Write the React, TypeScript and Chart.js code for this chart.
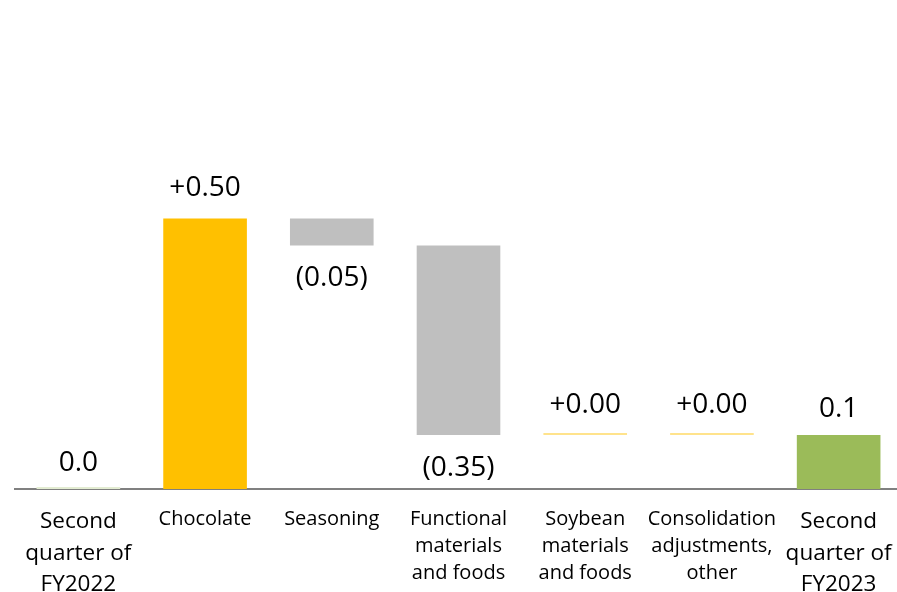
import { useEffect, useRef } from "react";
import { Chart, registerables } from "chart.js";

Chart.register(...registerables);

const categories: string[][] = [
  ["Second", "quarter of", "FY2022"],
  ["Chocolate"],
  ["Seasoning"],
  ["Functional", "materials", "and foods"],
  ["Soybean", "materials", "and foods"],
  ["Consolidation", "adjustments,", "other"],
  ["Second", "quarter of", "FY2023"],
];
const startTotal = 0.0;
const changes = [0.5, -0.05, -0.35, 0.0, 0.0];
const endTotal = 0.1;

const FONT = "'Open Sans', 'Noto Sans', sans-serif";

export default function App() {
  const ref = useRef<HTMLCanvasElement | null>(null);

  useEffect(() => {
    if (!ref.current) return;
    const n = categories.length;
    const ranges: number[][] = [[0, startTotal]];
    let run = startTotal;
    for (const c of changes) {
      ranges.push([run, run + c]);
      run += c;
    }
    ranges.push([0, endTotal]);

    const labels = [
      startTotal.toFixed(1),
      ...changes.map((c) => (c >= 0 ? "+" + c.toFixed(2) : "(" + Math.abs(c).toFixed(2) + ")")),
      endTotal.toFixed(1),
    ];
    const colors = [
      "#E3ECD2",
      ...changes.map((c) => (c > 0 ? "#FFC000" : c < 0 ? "#BFBFBF" : "#FFE38C")),
      "#9BBB59",
    ];

    const valueLabels = {
      id: "valueLabels",
      afterDatasetsDraw(chart: any) {
        const meta = chart.getDatasetMeta(0);
        const yScale = chart.scales.y;
        const ctx = chart.ctx;
        ctx.save();
        ctx.font = "28px " + FONT;
        ctx.fillStyle = "#000";
        ctx.textAlign = "center";
        ctx.textBaseline = "alphabetic";
        meta.data.forEach((el: any, i: number) => {
          const { x } = el.getProps(["x"], true);
          const r = ranges[i];
          const topPx = yScale.getPixelForValue(Math.max(r[0], r[1]));
          const botPx = yScale.getPixelForValue(Math.min(r[0], r[1]));
          const isTotal = i === 0 || i === n - 1;
          const neg = !isTotal && changes[i - 1] < 0;
          let ty: number;
          if (neg) ty = botPx + 41;
          else if (isTotal) ty = topPx - 18;
          else ty = topPx - 22;
          ctx.fillText(labels[i], x, ty);
        });
        ctx.restore();
      },
    };

    const chart = new Chart(ref.current, {
      type: "bar",
      data: {
        labels: categories,
        datasets: [
          {
            data: ranges as any,
            backgroundColor: colors,
            borderWidth: 0,
            barPercentage: 1,
            categoryPercentage: 0.66,
            minBarLength: 2,
          },
        ],
      },
      options: {
        animation: false,
        responsive: false,
        layout: { padding: { top: 56, left: 15, right: 0, bottom: 0 } },
        plugins: { legend: { display: false }, tooltip: { enabled: false } },
        scales: {
          y: { display: false, min: 0, max: 0.8 },
          x: {
            z: 1,
            grid: {
              display: true,
              drawOnChartArea: false,
              drawTicks: true,
              tickLength: 17,
              color: "transparent",
            },
            border: { display: true, color: "#808080", width: 2 },
            ticks: {
              color: "#000",
              padding: 0,
              maxRotation: 0,
              autoSkip: false,
              font: (ctx: any) => {
                const end = ctx.index === 0 || ctx.index === n - 1;
                return end
                  ? { family: FONT, size: 22.5, lineHeight: 1.4 }
                  : { family: FONT, size: 20, lineHeight: 1.35 };
              },
            },
            afterFit: (scale: any) => {
              scale.height = 103;
            },
          },
        },
      },
      plugins: [valueLabels],
    });
    return () => chart.destroy();
  }, []);

  return (
    <div style={{ position: "fixed", left: 0, top: 0, width: 897, height: 592, overflow: "hidden", background: "#fff" }}>
      <canvas ref={ref} width={902} height={592} style={{ display: "block", width: 902, height: 592 }} />
    </div>
  );
}
